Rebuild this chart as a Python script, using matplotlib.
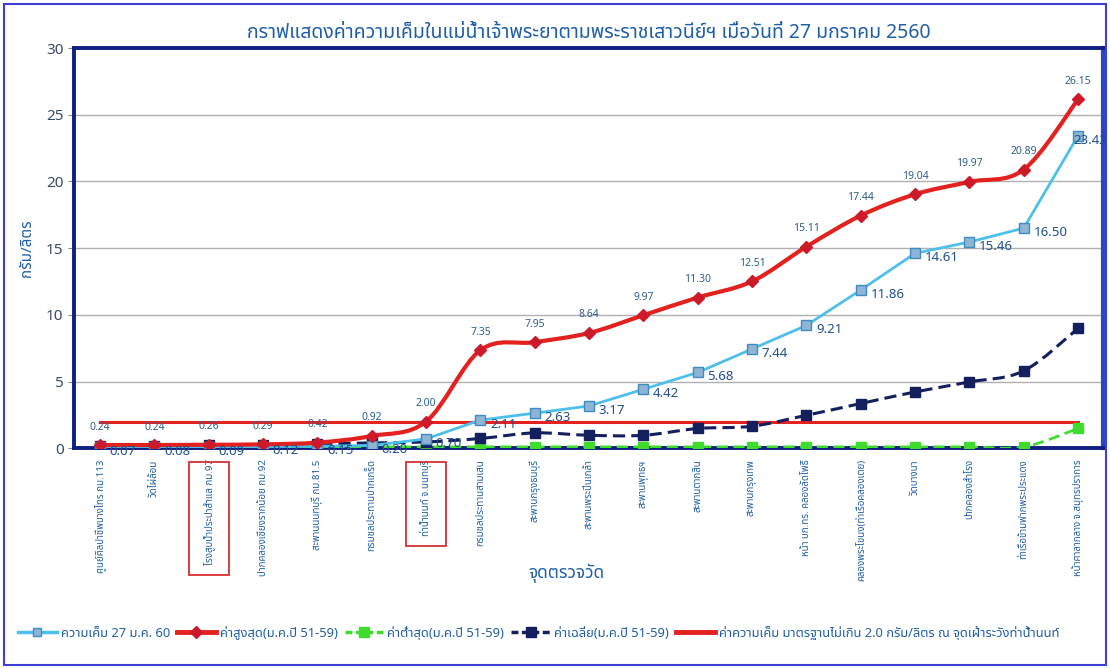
import matplotlib
matplotlib.use('Agg')
import matplotlib.pyplot as plt
from matplotlib import font_manager
from matplotlib.path import Path
from matplotlib.patches import PathPatch, Rectangle
from matplotlib.lines import Line2D

# pick a Thai font that is installed
names = set(f.name for f in font_manager.fontManager.ttflist)
thai = [n for n in ['Noto Sans Thai', 'IBM Plex Sans Thai', 'Sarabun'] if n in names]
plt.rcParams['font.family'] = thai[:1] + ['DejaVu Sans']

# data
stations = ['ศูนย์ศิลปาชีพบางไทร กม.113', 'วัดไผ่ล้อม', 'โรงสูบน้ำประปาสำแล กม.97',
            'ปากคลองเชียงรากน้อย กม.92', 'สะพานนนทบุรี กม.81.5', 'กรมชลประทานปากเกร็ด',
            'ท่าน้ำนนท์ จ.นนทบุรี', 'กรมชลประทานสามเสน', 'สะพานกรุงธนบุรี',
            'สะพานพระปิ่นเกล้า', 'สะพานพุทธฯ', 'สะพานตากสิน', 'สะพานกรุงเทพ',
            'หน้า บก.ทร. คลองลัดโพธิ์', 'คลองพระโขนง(ท่าเรือคลองเตย)', 'วัดบางนา',
            'ปากคลองสำโรง', 'ท่าเรือข้ามฟากพระประแดง', 'หน้าศาลากลาง จ.สมุทรปราการ']
boxed = [2, 6]
current = [0.07, 0.08, 0.09, 0.12, 0.15, 0.20, 0.70, 2.11, 2.63, 3.17, 4.42, 5.68,
           7.44, 9.21, 11.86, 14.61, 15.46, 16.50, 23.42]
maximum = [0.24, 0.24, 0.26, 0.29, 0.42, 0.92, 2.00, 7.35, 7.95, 8.64, 9.97, 11.30,
           12.51, 15.11, 17.44, 19.04, 19.97, 20.89, 26.15]
minimum = [0.10, 0.10, 0.10, 0.10, 0.10, 0.10, 0.10, 0.10, 0.10, 0.10, 0.10, 0.10,
           0.10, 0.10, 0.10, 0.10, 0.10, 0.10, 1.48]
average = [0.20, 0.20, 0.21, 0.24, 0.32, 0.40, 0.47, 0.73, 1.15, 0.97, 0.97, 1.48,
           1.65, 2.47, 3.35, 4.22, 4.97, 5.80, 8.98]
standard = [2.0] * len(stations)

labels_leg = ['ความเค็ม 27 ม.ค. 60', 'ค่าสูงสุด(ม.ค.ปี 51-59)', 'ค่าต่ำสุด(ม.ค.ปี 51-59)',
              'ค่าเฉลี่ย(ม.ค.ปี 51-59)',
              'ค่าความเค็ม มาตรฐานไม่เกิน 2.0 กรัม/ลิตร ณ จุดเฝ้าระวังท่าน้ำนนท์']

RED = '#e3211f'
LBLUE = '#4cc0ea'
NAVY = '#141f5e'
GREEN = '#3fdc2e'
TXT = '#1f5fa8'


def smooth(ax, xs, ys, **kw):
    # excel style smoothed line (bezier through the points)
    verts = [(xs[0], ys[0])]
    codes = [Path.MOVETO]
    n = len(xs)
    for i in range(n - 1):
        x0, y0 = (xs[i - 1], ys[i - 1]) if i > 0 else (xs[i], ys[i])
        x3, y3 = (xs[i + 2], ys[i + 2]) if i + 2 < n else (xs[i + 1], ys[i + 1])
        c1 = (xs[i] + (xs[i + 1] - x0) / 6, ys[i] + (ys[i + 1] - y0) / 6)
        c2 = (xs[i + 1] - (x3 - xs[i]) / 6, ys[i + 1] - (y3 - ys[i]) / 6)
        verts += [c1, c2, (xs[i + 1], ys[i + 1])]
        codes += [Path.CURVE4] * 3
    ax.add_patch(PathPatch(Path(verts, codes), facecolor='none', **kw))


fig = plt.figure(figsize=(11.1, 6.68), dpi=100)
ax = fig.add_axes([0.0667, 0.329, 0.927, 0.599])
x = list(range(len(stations)))

ax.plot(x, standard, color=RED, lw=2.2, zorder=3)
smooth(ax, x, minimum, edgecolor=GREEN, lw=2.0, linestyle=(0, (4, 2)), zorder=4)
ax.plot(x, minimum, ls='none', marker='s', ms=7, color=GREEN, zorder=5)
smooth(ax, x, average, edgecolor=NAVY, lw=2.2, linestyle=(0, (4, 2)), zorder=4)
ax.plot(x, average, ls='none', marker='s', ms=7, color=NAVY, zorder=5)
ax.plot(x, current, color=LBLUE, lw=2.0, marker='s', ms=6.5, mfc='#8fb4d4',
        mec='#3d8cc4', zorder=6)
smooth(ax, x, maximum, edgecolor=RED, lw=3.0, zorder=7)
ax.plot(x, maximum, ls='none', marker='D', ms=6, color='#cc1a2a', zorder=8)

for xi, v in zip(x, maximum):
    ax.annotate(f'{v:.2f}', (xi, v), xytext=(0, 9), textcoords='offset points',
                ha='center', va='bottom', fontsize=7.5, color='#2f5f8f', zorder=9)
for xi, v in zip(x, current):
    dx = 7 if xi < len(x) - 1 else -3
    ax.annotate(f'{v:.2f}', (xi, v), xytext=(dx, -3), textcoords='offset points',
                ha='left', va='center', fontsize=9.5, color='#1f4f8f', zorder=9)

ax.set_xlim(-0.48, 18.46)
ax.set_ylim(0, 30)
ax.set_yticks(range(0, 31, 5))
ax.yaxis.grid(True, color='#b0b0b0', lw=1)
ax.set_axisbelow(True)
ax.tick_params(axis='y', labelsize=11, colors='#3a4a6a', length=4, color='#888888')
ax.tick_params(axis='x', length=0, pad=8)
ax.set_xticks(x)
ax.set_xticklabels(stations, rotation=90, fontsize=7, color=TXT)
for s in ['left', 'bottom', 'top']:
    ax.spines[s].set_color('#0f1f80')
    ax.spines[s].set_linewidth(2.8)
ax.spines['right'].set_color('#2a46c8')
ax.spines['right'].set_linewidth(3)

ax.set_title('กราฟแสดงค่าความเค็มในแม่น้ำเจ้าพระยาตามพระราชเสาวนีย์ฯ เมื่อวันที่ 27 มกราคม 2560',
             fontsize=14, color='#1f5fa8', pad=7)
ax.set_ylabel('กรัม/ลิตร', fontsize=11, color=TXT, labelpad=8)
fig.text(0.51, 0.142, 'จุดตรวจวัด', fontsize=12.5, color=TXT, fontweight='bold',
         ha='center', va='center')

handles = [
    Line2D([], [], color=LBLUE, lw=2.5, marker='s', ms=6, mfc='#8fb4d4', mec='#3d8cc4'),
    Line2D([], [], color=RED, lw=3.5, marker='D', ms=6, mfc='#cc1a2a', mec='#cc1a2a'),
    Line2D([], [], color=GREEN, lw=2.5, ls=(0, (2, 1)), marker='s', ms=7),
    Line2D([], [], color=NAVY, lw=2.5, ls=(0, (2, 1)), marker='s', ms=7),
    Line2D([], [], color=RED, lw=3.5),
]
leg = fig.legend(handles, labels_leg, loc='center left', bbox_to_anchor=(0.008, 0.053),
                 ncol=5, frameon=False, fontsize=9.3, handlelength=3.0, handletextpad=0.3,
                 columnspacing=0.55, borderpad=0.2, labelcolor=TXT)

# red boxes around the two highlighted station labels
fig.canvas.draw()
H = fig.bbox.height
for i in boxed:
    bb = ax.get_xticklabels()[i].get_window_extent()
    x0, x1 = bb.x0 - 14, bb.x1 + 14
    y_top = ax.bbox.y0 - 14
    y_bot = bb.y0 - 10
    fig.add_artist(Rectangle((x0 / fig.bbox.width, y_bot / H), (x1 - x0) / fig.bbox.width,
                             (y_top - y_bot) / H, transform=fig.transFigure, fill=False,
                             edgecolor='#d83030', lw=1.3))

fig.add_artist(Rectangle((0.004, 0.004), 0.992, 0.99, transform=fig.transFigure,
                         fill=False, edgecolor='#3f3fd8', lw=1.5))

fig.savefig('out.png', dpi=100)
